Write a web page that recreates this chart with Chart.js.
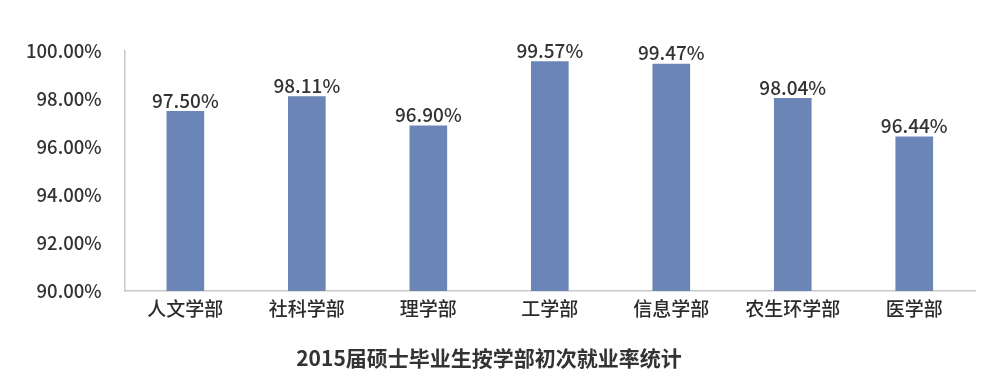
<!DOCTYPE html>
<html>
<head>
<meta charset="utf-8">
<script src="https://cdn.jsdelivr.net/npm/chart.js@4/dist/chart.umd.min.js"></script>
<style>
  html, body { margin: 0; padding: 0; background: #ffffff; }
  #wrap { width: 985px; height: 381px; position: relative; }
</style>
</head>
<body>
<div id="wrap"><canvas id="chart"></canvas></div>
<script>
/* ── Data ── */
const categories = ['人文学部', '社科学部', '理学部', '工学部', '信息学部', '农生环学部', '医学部'];
const rates = [97.50, 98.11, 96.90, 99.57, 99.47, 98.04, 96.44];
const yTicks = [90, 92, 94, 96, 98, 100];
const chartTitle = '2015届硕士毕业生按学部初次就业率统计';

const FONT = "'Noto Sans CJK SC', 'Noto Sans', sans-serif";
const BAR_COLOR = '#6b86b6';

/* ── Value labels above bars ── */
const valueLabels = {
  id: 'valueLabels',
  afterDatasetsDraw(chart) {
    const { ctx } = chart;
    const meta = chart.getDatasetMeta(0);
    ctx.save();
    ctx.font = `500 19px ${FONT}`;
    ctx.fillStyle = '#333333';
    ctx.textAlign = 'center';
    ctx.textBaseline = 'bottom';
    meta.data.forEach((bar, i) => {
      ctx.fillText(rates[i].toFixed(2) + '%', bar.x, bar.y - 1);
    });
    ctx.restore();
  }
};

new Chart(document.getElementById('chart'), {
  type: 'bar',
  data: {
    labels: categories,
    datasets: [{
      data: rates,
      backgroundColor: BAR_COLOR,
      borderWidth: 0,
      barPercentage: 0.31,
      categoryPercentage: 1.0,
    }]
  },
  options: {
    responsive: true,
    maintainAspectRatio: false,
    animation: false,
    layout: { padding: { top: 51, right: 10, left: 3, bottom: 10 } },
    plugins: {
      legend: { display: false },
      tooltip: { enabled: false },
      title: {
        display: true,
        text: chartTitle,
        position: 'bottom',
        color: '#333333',
        font: { family: FONT, size: 21, weight: 'bold' },
        padding: { top: 20, bottom: 0 }
      }
    },
    scales: {
      x: {
        grid: { display: false, drawTicks: false },
        border: { color: '#c8c8c8', width: 1.5 },
        ticks: { color: '#2b2b2b', font: { family: FONT, size: 19, weight: 500 }, padding: 6 }
      },
      y: {
        min: 90,
        max: 100,
        afterBuildTicks: axis => { axis.ticks = yTicks.map(v => ({ value: v })); },
        grid: { display: false, drawTicks: false },
        border: { color: '#c8c8c8', width: 1.5 },
        ticks: {
          color: '#333333',
          font: { family: FONT, size: 18.5, weight: 500 },
          padding: 23,
          callback: v => Number(v).toFixed(2) + '%'
        }
      }
    }
  },
  plugins: [valueLabels]
});
</script>
</body>
</html>
